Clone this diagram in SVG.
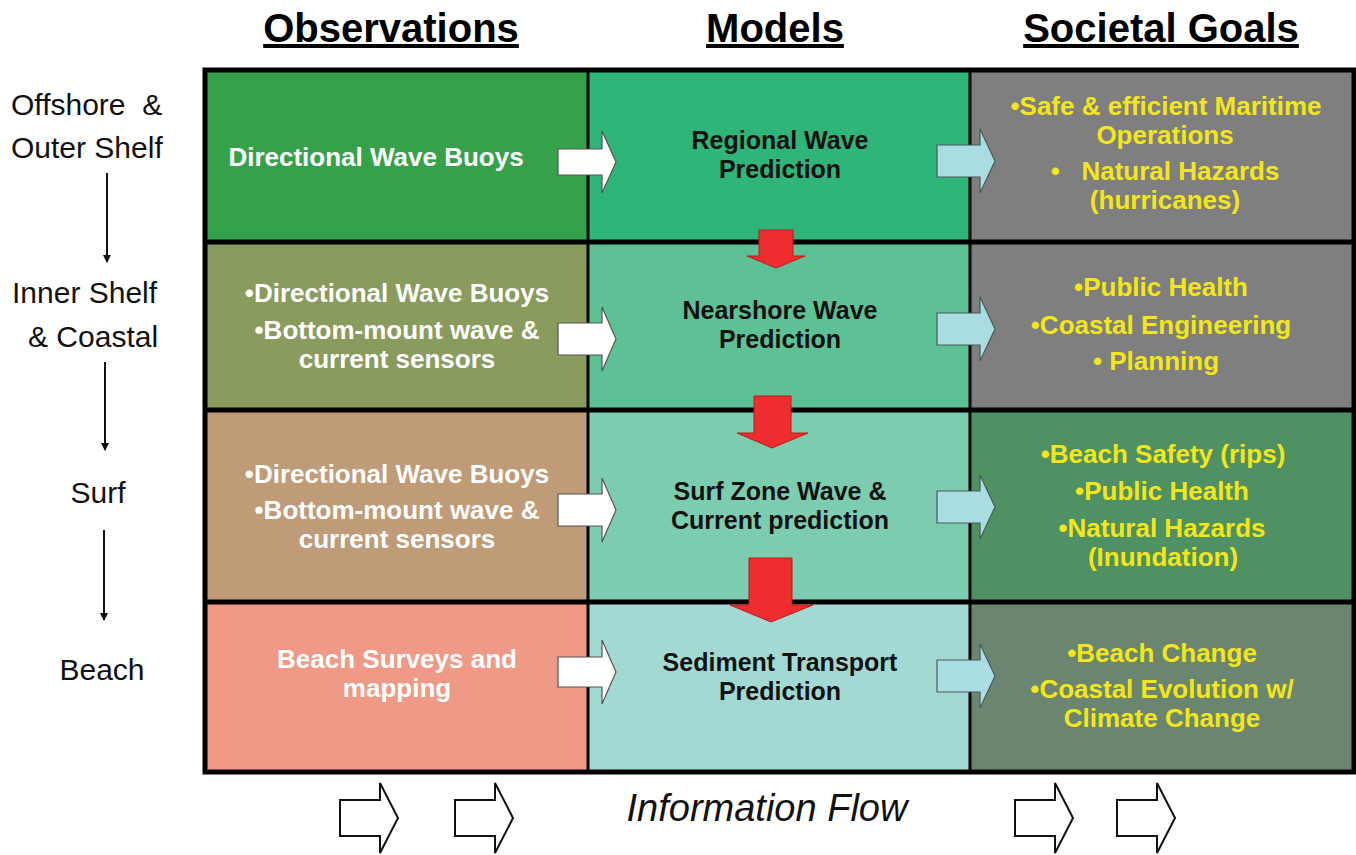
<svg xmlns="http://www.w3.org/2000/svg" width="1356" height="855" viewBox="0 0 1356 855">
<style>
.hdr{font-family:"Liberation Sans",Arial,sans-serif;font-weight:bold;font-size:40px;fill:#000;text-anchor:middle;text-decoration:underline}
.lbl{font-family:"Liberation Sans",Arial,sans-serif;font-size:30px;fill:#111}
.obs{font-family:"Liberation Sans",Arial,sans-serif;font-weight:bold;font-size:26px;fill:#fff;text-anchor:middle}
.mod{font-family:"Liberation Sans",Arial,sans-serif;font-weight:bold;font-size:25px;fill:#111;text-anchor:middle}
.goal{font-family:"Liberation Sans",Arial,sans-serif;font-weight:bold;font-size:26px;fill:#f3e61a;text-anchor:middle}
.flow{font-family:"Liberation Sans",Arial,sans-serif;font-style:italic;font-size:38px;fill:#111;text-anchor:middle}
.wa{fill:#fff;stroke:#555;stroke-width:1.2}
.ba{fill:#a9dde2;stroke:#4a5a5a;stroke-width:1.2}
.ra{fill:#ee2e2e;stroke:#c01818;stroke-width:1}
.oa{fill:#fff;stroke:#111;stroke-width:2}
.hl{stroke:#000;stroke-width:5}
.vl{stroke:#000;stroke-width:3}
.ln{stroke:#111;stroke-width:2;fill:none}
</style>
<defs>
<marker id="ah" markerWidth="8" markerHeight="10" refX="7" refY="5" orient="auto" markerUnits="userSpaceOnUse">
<path d="M0,1 L8,5 L0,9 Z" fill="#111"/>
</marker>
</defs>
<rect width="1356" height="855" fill="#fff"/>

<g id="headers">
<text class="hdr" x="391" y="42">Observations</text>
<text class="hdr" x="775" y="42">Models</text>
<text class="hdr" x="1161" y="42">Societal Goals</text>
</g>

<g id="zone-labels">
<text class="lbl" x="11" y="115">Offshore&#160; &amp;</text>
<text class="lbl" x="11" y="158">Outer Shelf</text>
<text class="lbl" x="12" y="303">Inner Shelf</text>
<text class="lbl" x="28" y="347">&amp; Coastal</text>
<text class="lbl" x="98" y="503" text-anchor="middle">Surf</text>
<text class="lbl" x="102" y="680" text-anchor="middle">Beach</text>
</g>

<g id="cell-obs-1"><rect x="205" y="70" width="383" height="172" fill="#35a24b"/>
<text class="obs" x="376" y="166">Directional Wave Buoys</text></g>
<g id="cell-mod-1"><rect x="588" y="70" width="382" height="172" fill="#2fb479"/>
<text class="mod" x="780" y="149">Regional Wave</text><text class="mod" x="780" y="178">Prediction</text></g>
<g id="cell-goal-1"><rect x="970" y="70" width="386" height="172" fill="#7f7f7f"/>
<text class="goal" x="1166" y="115">•Safe &amp; efficient Maritime</text>
<text class="goal" x="1165" y="144">Operations</text>
<text class="goal" x="1165" y="180" xml:space="preserve">•   Natural Hazards</text>
<text class="goal" x="1165" y="209">(hurricanes)</text></g>

<g id="cell-obs-2"><rect x="205" y="242" width="383" height="168" fill="#8a9b5e"/>
<text class="obs" x="397" y="302">•Directional Wave Buoys</text>
<text class="obs" x="397" y="339">•Bottom-mount wave &amp;</text>
<text class="obs" x="397" y="368">current sensors</text></g>
<g id="cell-mod-2"><rect x="588" y="242" width="382" height="168" fill="#5dc195"/>
<text class="mod" x="780" y="319">Nearshore Wave</text><text class="mod" x="780" y="348">Prediction</text></g>
<g id="cell-goal-2"><rect x="970" y="242" width="386" height="168" fill="#7f7f7f"/>
<text class="goal" x="1161" y="296">•Public Health</text>
<text class="goal" x="1161" y="334">•Coastal Engineering</text>
<text class="goal" x="1156" y="370">• Planning</text></g>

<g id="cell-obs-3"><rect x="205" y="410" width="383" height="192" fill="#bf9b77"/>
<text class="obs" x="397" y="483">•Directional Wave Buoys</text>
<text class="obs" x="397" y="519">•Bottom-mount wave &amp;</text>
<text class="obs" x="397" y="548">current sensors</text></g>
<g id="cell-mod-3"><rect x="588" y="410" width="382" height="192" fill="#7ccdb0"/>
<text class="mod" x="780" y="500">Surf Zone Wave &amp;</text><text class="mod" x="780" y="529">Current prediction</text></g>
<g id="cell-goal-3"><rect x="970" y="410" width="386" height="192" fill="#4f9163"/>
<text class="goal" x="1163" y="463">•Beach Safety (rips)</text>
<text class="goal" x="1162" y="500">•Public Health</text>
<text class="goal" x="1162" y="537">•Natural Hazards</text>
<text class="goal" x="1163" y="566">(Inundation)</text></g>

<g id="cell-obs-4"><rect x="205" y="602" width="383" height="170" fill="#ef9a86"/>
<text class="obs" x="397" y="668">Beach Surveys and</text>
<text class="obs" x="397" y="697">mapping</text></g>
<g id="cell-mod-4"><rect x="588" y="602" width="382" height="170" fill="#a2dad3"/>
<text class="mod" x="780" y="671">Sediment Transport</text><text class="mod" x="780" y="700">Prediction</text></g>
<g id="cell-goal-4"><rect x="970" y="602" width="386" height="170" fill="#6b8670"/>
<text class="goal" x="1162" y="662">•Beach Change</text>
<text class="goal" x="1162" y="698">•Coastal Evolution w/</text>
<text class="goal" x="1162" y="727">Climate Change</text></g>

<g id="grid">
<line class="hl" x1="205" y1="242" x2="1356" y2="242"/>
<line class="hl" x1="205" y1="410" x2="1356" y2="410"/>
<line class="hl" x1="205" y1="602" x2="1356" y2="602"/>
<line class="vl" x1="588" y1="70" x2="588" y2="772"/>
<line class="vl" x1="970" y1="70" x2="970" y2="772"/>
<rect x="205" y="70" width="1149" height="702" fill="none" stroke="#000" stroke-width="5"/>
</g>

<g id="connectors">
<line class="ln" x1="107" y1="173" x2="107" y2="262" marker-end="url(#ah)"/>
<line class="ln" x1="105" y1="362" x2="105" y2="450" marker-end="url(#ah)"/>
<line class="ln" x1="104" y1="530" x2="104" y2="620" marker-end="url(#ah)"/>

<path class="wa" d="M558,149 H602 V131 L616,162 L602,193 V175 H558 Z"/>
<path class="wa" d="M558,323 H602 V307 L616,339 L602,371 V355 H558 Z"/>
<path class="wa" d="M558,494 H602 V478 L616,510 L602,542 V526 H558 Z"/>
<path class="wa" d="M558,657 H602 V640 L616,672 L602,704 V687 H558 Z"/>

<path class="ba" d="M937,145 H980 V129 L995,161 L980,193 V177 H937 Z"/>
<path class="ba" d="M937,313 H980 V297 L995,329 L980,361 V345 H937 Z"/>
<path class="ba" d="M937,491 H980 V475 L995,507 L980,539 V523 H937 Z"/>
<path class="ba" d="M937,660 H980 V644 L995,676 L980,708 V692 H937 Z"/>

<path class="ra" d="M759,230 H793 V256 H805 L776,268 L747,256 H759 Z"/>
<path class="ra" d="M754,396 H791 V433 H808 L772,448 L737,433 H754 Z"/>
<path class="ra" d="M749,558 H792 V605 H813 L771,622 L730,605 H749 Z"/>

<path class="oa" d="M340,800 H380 V783 L398,818 L380,853 V836 H340 Z"/>
<path class="oa" d="M455,800 H495 V783 L513,818 L495,853 V836 H455 Z"/>
<path class="oa" d="M1015,800 H1055 V783 L1073,818 L1055,853 V836 H1015 Z"/>
<path class="oa" d="M1117,800 H1157 V783 L1175,818 L1157,853 V836 H1117 Z"/>
</g>

<text class="flow" x="767" y="821">Information Flow</text>
</svg>
